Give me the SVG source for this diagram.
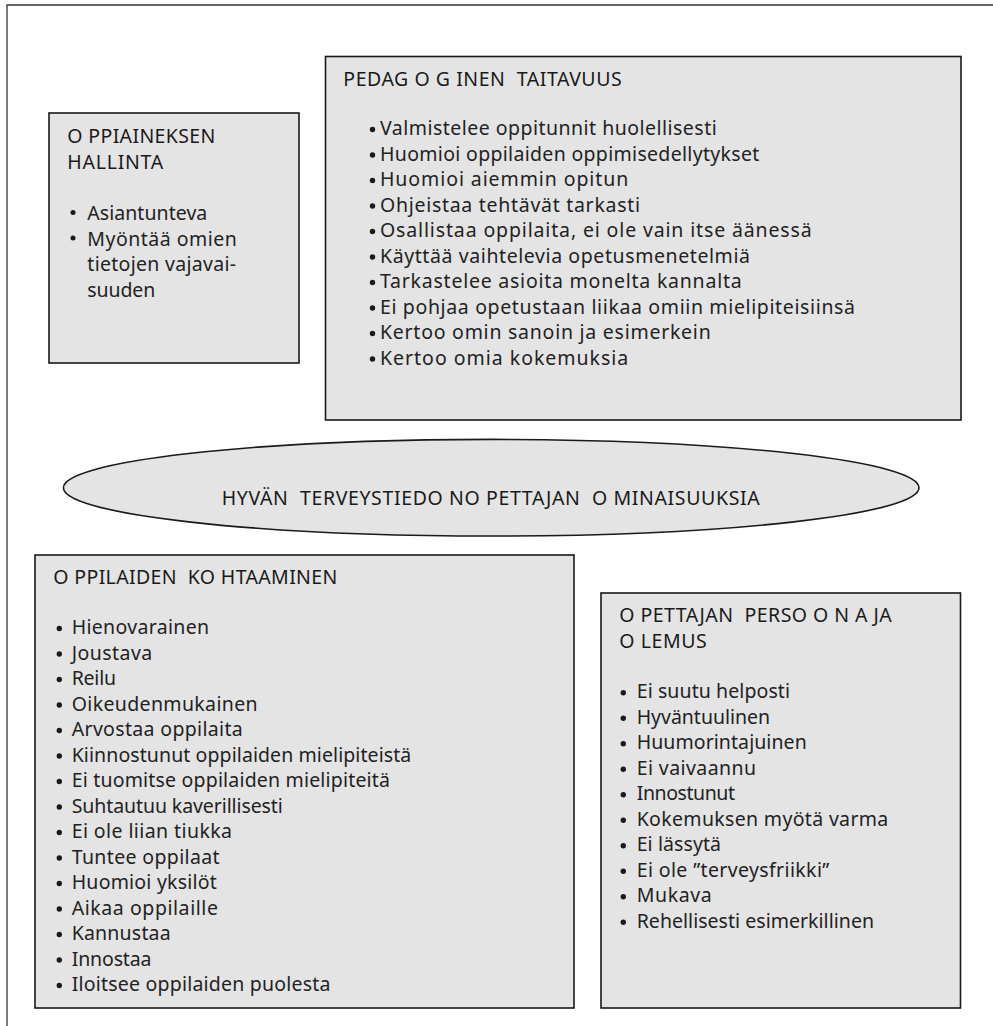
<svg xmlns="http://www.w3.org/2000/svg" width="993" height="1026" viewBox="0 0 993 1026">
  <style>
    .frame { fill: none; stroke: #333333; stroke-width: 1.3; }
    .box { fill: #e4e4e4; stroke: #1a1a1a; stroke-width: 1.6; }
    .head { font-family: "Noto Sans", "Liberation Sans", sans-serif; font-size: 19.5px; fill: #1a1a1a; white-space: pre; }
    .item { font-family: "Noto Sans", "Liberation Sans", sans-serif; font-size: 19.5px; fill: #222222; }
    .dot { fill: #1a1a1a; }
  </style>

  <!-- page frame: only the left and top edges fall inside the sheet -->
  <path class="frame" d="M 7 1026 V 5 H 993"/>

  <!-- subject knowledge -->
  <g id="oppiaineksen-hallinta">
    <rect class="box" x="49" y="113" width="250" height="250"/>
    <text class="head" x="67.3" y="142.7" textLength="148" lengthAdjust="spacing">O PPIAINEKSEN</text>
    <text class="head" x="67.3" y="168.5" textLength="96" lengthAdjust="spacing">HALLINTA</text>
    <circle class="dot" cx="73" cy="212.5" r="2.5"/>
    <circle class="dot" cx="73" cy="238" r="2.5"/>
    <text class="item" x="87.3" y="220" textLength="120" lengthAdjust="spacing">Asiantunteva</text>
    <text class="item" x="87.3" y="245.5" textLength="149.4" lengthAdjust="spacing">Myöntää omien</text>
    <text class="item" x="87.3" y="271" textLength="148.7" lengthAdjust="spacing">tietojen vajavai-</text>
    <text class="item" x="87.3" y="296.5" textLength="68" lengthAdjust="spacing">suuden</text>
  </g>

  <!-- pedagogical skill -->
  <g id="pedagoginen-taitavuus">
    <rect class="box" x="325.5" y="56.5" width="635.5" height="363.5"/>
    <text class="head" x="343.3" y="85.7" textLength="278.4" lengthAdjust="spacing">PEDAG O G INEN  TAITAVUUS</text>
    <g class="dot">
      <circle cx="372.5" cy="129.5" r="2.7"/>
      <circle cx="372.5" cy="155" r="2.7"/>
      <circle cx="372.5" cy="180.5" r="2.7"/>
      <circle cx="372.5" cy="206" r="2.7"/>
      <circle cx="372.5" cy="231.5" r="2.7"/>
      <circle cx="372.5" cy="257" r="2.7"/>
      <circle cx="372.5" cy="282.5" r="2.7"/>
      <circle cx="372.5" cy="308" r="2.7"/>
      <circle cx="372.5" cy="333.5" r="2.7"/>
      <circle cx="372.5" cy="359" r="2.7"/>
    </g>
    <text class="item" x="380" y="135" textLength="336.7" lengthAdjust="spacing">Valmistelee oppitunnit huolellisesti</text>
    <text class="item" x="380" y="160.5" textLength="379.3" lengthAdjust="spacing">Huomioi oppilaiden oppimisedellytykset</text>
    <text class="item" x="380" y="186" textLength="248.3" lengthAdjust="spacing">Huomioi aiemmin opitun</text>
    <text class="item" x="380" y="211.5" textLength="260" lengthAdjust="spacing">Ohjeistaa tehtävät tarkasti</text>
    <text class="item" x="380" y="237" textLength="431.7" lengthAdjust="spacing">Osallistaa oppilaita, ei ole vain itse äänessä</text>
    <text class="item" x="380" y="262.5" textLength="370" lengthAdjust="spacing">Käyttää vaihtelevia opetusmenetelmiä</text>
    <text class="item" x="380" y="288" textLength="361.7" lengthAdjust="spacing">Tarkastelee asioita monelta kannalta</text>
    <text class="item" x="380" y="313.5" textLength="475" lengthAdjust="spacing">Ei pohjaa opetustaan liikaa omiin mielipiteisiinsä</text>
    <text class="item" x="380" y="339" textLength="330.7" lengthAdjust="spacing">Kertoo omin sanoin ja esimerkein</text>
    <text class="item" x="380" y="364.5" textLength="248.3" lengthAdjust="spacing">Kertoo omia kokemuksia</text>
  </g>

  <!-- central title -->
  <g id="ominaisuudet">
    <ellipse class="box" cx="491.2" cy="487.7" rx="427.8" ry="48.3"/>
    <text class="head" x="221.7" y="505" textLength="538" lengthAdjust="spacing">HYVÄN  TERVEYSTIEDO NO PETTAJAN  O MINAISUUKSIA</text>
  </g>

  <!-- meeting the pupils -->
  <g id="oppilaiden-kohtaaminen">
    <rect class="box" x="35" y="555" width="539" height="453"/>
    <text class="head" x="53.3" y="584.3" textLength="284" lengthAdjust="spacing">O PPILAIDEN  KO HTAAMINEN</text>
    <g class="dot">
      <circle cx="59.3" cy="628.5" r="2.7"/>
      <circle cx="59.3" cy="654" r="2.7"/>
      <circle cx="59.3" cy="679.5" r="2.7"/>
      <circle cx="59.3" cy="705" r="2.7"/>
      <circle cx="59.3" cy="730.5" r="2.7"/>
      <circle cx="59.3" cy="756" r="2.7"/>
      <circle cx="59.3" cy="781.5" r="2.7"/>
      <circle cx="59.3" cy="807" r="2.7"/>
      <circle cx="59.3" cy="832.5" r="2.7"/>
      <circle cx="59.3" cy="858" r="2.7"/>
      <circle cx="59.3" cy="883.5" r="2.7"/>
      <circle cx="59.3" cy="909" r="2.7"/>
      <circle cx="59.3" cy="934.5" r="2.7"/>
      <circle cx="59.3" cy="960" r="2.7"/>
      <circle cx="59.3" cy="985.5" r="2.7"/>
    </g>
    <text class="item" x="71.7" y="634" textLength="137.3" lengthAdjust="spacing">Hienovarainen</text>
    <text class="item" x="71.7" y="659.5" textLength="80.5" lengthAdjust="spacing">Joustava</text>
    <text class="item" x="71.7" y="685" textLength="44.3" lengthAdjust="spacing">Reilu</text>
    <text class="item" x="71.7" y="710.5" textLength="185.9" lengthAdjust="spacing">Oikeudenmukainen</text>
    <text class="item" x="71.7" y="736" textLength="171" lengthAdjust="spacing">Arvostaa oppilaita</text>
    <text class="item" x="71.7" y="761.5" textLength="339.6" lengthAdjust="spacing">Kiinnostunut oppilaiden mielipiteistä</text>
    <text class="item" x="71.7" y="787" textLength="318.3" lengthAdjust="spacing">Ei tuomitse oppilaiden mielipiteitä</text>
    <text class="item" x="71.7" y="812.5" textLength="211.1" lengthAdjust="spacing">Suhtautuu kaverillisesti</text>
    <text class="item" x="71.7" y="838" textLength="160.3" lengthAdjust="spacing">Ei ole liian tiukka</text>
    <text class="item" x="71.7" y="863.5" textLength="147.9" lengthAdjust="spacing">Tuntee oppilaat</text>
    <text class="item" x="71.7" y="889" textLength="145.1" lengthAdjust="spacing">Huomioi yksilöt</text>
    <text class="item" x="71.7" y="914.5" textLength="146.2" lengthAdjust="spacing">Aikaa oppilaille</text>
    <text class="item" x="71.7" y="940" textLength="99" lengthAdjust="spacing">Kannustaa</text>
    <text class="item" x="71.7" y="965.5" textLength="79.8" lengthAdjust="spacing">Innostaa</text>
    <text class="item" x="71.7" y="991" textLength="258.7" lengthAdjust="spacing">Iloitsee oppilaiden puolesta</text>
  </g>

  <!-- teacher's persona and bearing -->
  <g id="opettajan-persoona">
    <rect class="box" x="601" y="593" width="359.5" height="415"/>
    <text class="head" x="619.3" y="621.7" textLength="272.4" lengthAdjust="spacing">O PETTAJAN  PERSO O N A JA</text>
    <text class="head" x="619.3" y="647.7" textLength="87.4" lengthAdjust="spacing">O LEMUS</text>
    <g class="dot">
      <circle cx="623.3" cy="692.8" r="2.7"/>
      <circle cx="623.3" cy="718.3" r="2.7"/>
      <circle cx="623.3" cy="743.8" r="2.7"/>
      <circle cx="623.3" cy="769.3" r="2.7"/>
      <circle cx="623.3" cy="794.8" r="2.7"/>
      <circle cx="623.3" cy="820.3" r="2.7"/>
      <circle cx="623.3" cy="845.8" r="2.7"/>
      <circle cx="623.3" cy="871.3" r="2.7"/>
      <circle cx="623.3" cy="896.8" r="2.7"/>
      <circle cx="623.3" cy="922.3" r="2.7"/>
    </g>
    <text class="item" x="636.7" y="698.3" textLength="153.3" lengthAdjust="spacing">Ei suutu helposti</text>
    <text class="item" x="636.7" y="723.8" textLength="133.3" lengthAdjust="spacing">Hyväntuulinen</text>
    <text class="item" x="636.7" y="749.3" textLength="170" lengthAdjust="spacing">Huumorintajuinen</text>
    <text class="item" x="636.7" y="774.8" textLength="119.3" lengthAdjust="spacing">Ei vaivaannu</text>
    <text class="item" x="636.7" y="800.3" textLength="98.3" lengthAdjust="spacing">Innostunut</text>
    <text class="item" x="636.7" y="825.8" textLength="251.6" lengthAdjust="spacing">Kokemuksen myötä varma</text>
    <text class="item" x="636.7" y="851.3" textLength="84.3" lengthAdjust="spacing">Ei lässytä</text>
    <text class="item" x="636.7" y="876.8" textLength="192.6" lengthAdjust="spacing">Ei ole ”terveysfriikki”</text>
    <text class="item" x="636.7" y="902.3" textLength="75" lengthAdjust="spacing">Mukava</text>
    <text class="item" x="636.7" y="927.8" textLength="237.3" lengthAdjust="spacing">Rehellisesti esimerkillinen</text>
  </g>
</svg>
